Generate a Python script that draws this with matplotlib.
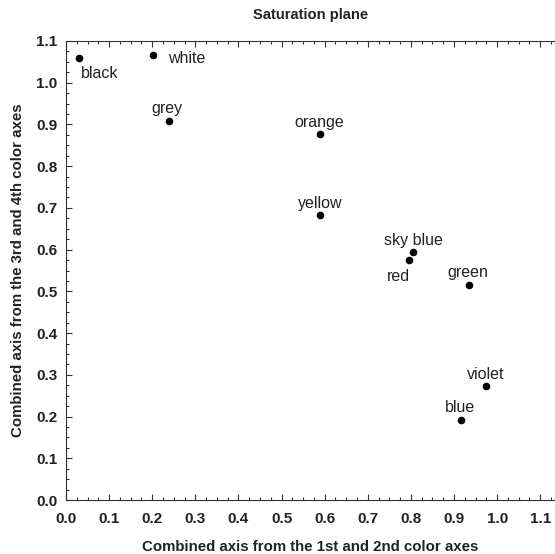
import matplotlib
matplotlib.use("Agg")
import matplotlib.pyplot as plt
from matplotlib.ticker import MultipleLocator, FormatStrFormatter

plt.rcParams['font.family'] = ['Liberation Sans', 'DejaVu Sans']

names = ["black", "white", "grey", "orange", "yellow", "sky blue", "red", "green", "violet", "blue"]
x_vals = [0.030, 0.202, 0.239, 0.589, 0.589, 0.805, 0.796, 0.935, 0.974, 0.916]
y_vals = [1.060, 1.067, 0.909, 0.878, 0.683, 0.594, 0.576, 0.516, 0.273, 0.192]
# label offsets in points and alignment
offsets = {
    "black": (15, -11.5, "center"),
    "white": (11, -3, "left"),
    "grey": (-1.5, 8.6, "center"),
    "orange": (-0.5, 8.0, "center"),
    "yellow": (0, 8.6, "center"),
    "sky blue": (0, 8.6, "center"),
    "red": (-8, -12, "center"),
    "green": (-1, 8.6, "center"),
    "violet": (0, 8.6, "center"),
    "blue": (-1, 8.6, "center"),
}

fig = plt.figure(figsize=(5.55, 5.54), dpi=100)
ax = fig.add_axes([66/555, 54/554, (554.5-66)/555, (500-41)/554])

ax.scatter(x_vals, y_vals, s=20, color="black", zorder=3)
for n, xv, yv in zip(names, x_vals, y_vals):
    dx, dy, ha = offsets[n]
    ax.annotate(n, (xv, yv), xytext=(dx, dy), textcoords="offset points",
                ha=ha, va="center", fontsize=11.5, color="#222222")

ax.set_xlim(0, 1.133)
ax.set_ylim(0, 1.1)
ax.xaxis.set_major_locator(MultipleLocator(0.1))
ax.yaxis.set_major_locator(MultipleLocator(0.1))
ax.xaxis.set_minor_locator(MultipleLocator(0.025))
ax.yaxis.set_minor_locator(MultipleLocator(0.025))
ax.tick_params(which="both", direction="in", top=True, right=False, width=0.8, color="#333333")
ax.tick_params(which="major", length=4, labelsize=11)
ax.tick_params(axis="x", which="major", pad=8.5)
ax.tick_params(axis="y", which="major", pad=6)
ax.tick_params(which="minor", length=2)
ax.xaxis.set_major_formatter(FormatStrFormatter("%.1f"))
ax.yaxis.set_major_formatter(FormatStrFormatter("%.1f"))
for lab in ax.get_xticklabels() + ax.get_yticklabels():
    lab.set_fontweight("bold")
    lab.set_color("#222222")
for sp in ax.spines.values():
    sp.set_color("#333333")
    sp.set_linewidth(0.8)
ax.spines["right"].set_color("#dddddd")

ax.set_xlabel("Combined axis from the 1st and 2nd color axes", fontsize=10.8, fontweight="bold", labelpad=10, color="#222222")
ax.set_ylabel("Combined axis from the 3rd and 4th color axes", fontsize=10.8, fontweight="bold", labelpad=8, color="#222222")
ax.set_title("Saturation plane", fontsize=10.6, fontweight="bold", pad=15.5, color="#222222")

fig.savefig("out.png", dpi=100)
